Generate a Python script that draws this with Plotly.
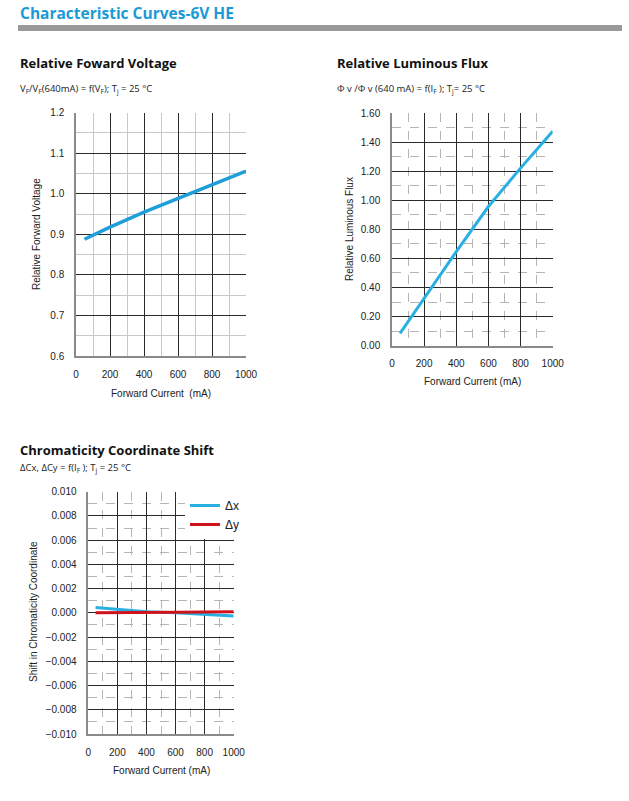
import plotly.graph_objects as go

# page size in px
W, H = 629, 801

# Relative forward voltage
current_vf = [50, 200, 400, 600, 800, 1000]
rel_vf = [0.888, 0.918, 0.955, 0.988, 1.023, 1.056]

# Relative luminous flux
current_flux = [50, 200, 400, 600, 800, 1000]
rel_flux = [0.085, 0.326, 0.647, 0.957, 1.221, 1.474]

# Chromaticity coordinate shift
current_cs = [50, 200, 400, 600, 800, 1000]
delta_x = [0.00044, 0.0003, 0.0001, 0.0, -0.0001, -0.00025]
delta_y = [0.0, 0.0, 0.00002, 0.00005, 0.00007, 0.0001]

BLUE = '#29b0e3'
RED = '#d0121b'
TICK_FONT = dict(family='Liberation Sans, Arial', size=10, color='#222')


def px_x(x):
    return x / W


def px_y(y):
    return 1 - y / H


def axis_style(rng, dtick, minor_dtick, dash, minor_color, fmt=None, domain=None, anchor=None):
    d = dict(range=rng, dtick=dtick, tick0=rng[0], showgrid=True, gridcolor='#2a2a2a', gridwidth=1.3,
             zeroline=False, showline=True, linecolor='#8a8a8a', linewidth=1.5, mirror=False,
             ticks='', tickfont=TICK_FONT, ticklabelstandoff=8, fixedrange=True, automargin=False,
             minor=dict(dtick=minor_dtick, showgrid=True, gridcolor=minor_color, gridwidth=1,
                        griddash=dash))
    if fmt:
        d['tickformat'] = fmt
    if domain:
        d['domain'] = domain
    if anchor:
        d['anchor'] = anchor
    return d


fig = go.Figure()

fig.add_trace(go.Scatter(x=current_vf, y=rel_vf, mode='lines', line=dict(color='#1f9fd9', width=3.5),
                         xaxis='x', yaxis='y', showlegend=False))
fig.add_trace(go.Scatter(x=current_flux, y=rel_flux, mode='lines', line=dict(color=BLUE, width=3),
                         xaxis='x2', yaxis='y2', showlegend=False))
fig.add_trace(go.Scatter(x=current_cs, y=delta_x, mode='lines', name='Δx', line=dict(color=BLUE, width=3),
                         xaxis='x3', yaxis='y3'))
fig.add_trace(go.Scatter(x=current_cs, y=delta_y, mode='lines', name='Δy', line=dict(color=RED, width=3),
                         xaxis='x3', yaxis='y3'))

fig.update_layout(
    width=W, height=H, margin=dict(l=0, r=0, t=0, b=0, autoexpand=False),
    paper_bgcolor='white', plot_bgcolor='white',
    font=dict(family='Liberation Sans, Arial', color='#222'),
    xaxis=axis_style([0, 1000], 200, 100, 'solid', '#c8c8c8',
                     domain=[px_x(76), px_x(246)], anchor='y'),
    yaxis=axis_style([0.6, 1.2], 0.1, 0.05, 'solid', '#c8c8c8', fmt='.1f',
                     domain=[px_y(356), px_y(112.7)], anchor='x'),
    xaxis2=axis_style([0, 1000], 200, 100, 'dash', '#b5b5b5',
                      domain=[px_x(392), px_x(552.7)], anchor='y2'),
    yaxis2=axis_style([0, 1.6], 0.2, 0.1, 'dash', '#b5b5b5', fmt='.2f',
                      domain=[px_y(345.7), px_y(113)], anchor='x2'),
    xaxis3=axis_style([0, 1000], 200, 100, 'dash', '#b5b5b5',
                      domain=[px_x(88.3), px_x(233.7)], anchor='y3'),
    yaxis3=axis_style([-0.01, 0.01], 0.002, 0.001, 'dash', '#b5b5b5', fmt='.3f',
                      domain=[px_y(734), px_y(491.7)], anchor='x3'),
    legend=dict(x=px_x(185), y=px_y(491), xanchor='left', yanchor='top', bgcolor='white',
                borderwidth=0, font=dict(family='Liberation Sans, Arial', size=12, color='#222'),
                itemwidth=30, tracegroupgap=0),
)

# header bar under the main title
fig.add_shape(type='rect', xref='paper', yref='paper', x0=px_x(18), x1=px_x(622),
              y0=px_y(31), y1=px_y(25), fillcolor='#999999', line_width=0)

HEAD = 'Open Sans, Noto Sans, Arial'
notes = [
    # (x px, y px, text, size, bold, color)
    (18, 13, 'Characteristic Curves-6V HE', 15.5, True, '#1a9ad6'),
    (18, 63, 'Relative Foward Voltage', 13, True, '#111'),
    (335, 63, 'Relative Luminous Flux', 13, True, '#111'),
    (18, 450, 'Chromaticity Coordinate Shift', 13, True, '#111'),
    (18, 89, 'V<sub>F</sub>/V<sub>F</sub>(640mA) = f(V<sub>F</sub>); T<sub>j</sub> = 25 °C', 9.5, False, '#222'),
    (335, 89, 'Φ v /Φ v (640 mA) = f(I<sub>F</sub> ); T<sub>j</sub>= 25 °C', 9.5, False, '#222'),
    (18, 468, 'ΔCx, ΔCy = f(I<sub>F</sub> ); T<sub>j</sub> = 25 °C', 9.5, False, '#222'),
]
for x, y, text, size, bold, color in notes:
    fig.add_annotation(x=px_x(x), y=px_y(y), xref='paper', yref='paper', xanchor='left', yanchor='middle',
                       text=f'<b>{text}</b>' if bold else text, showarrow=False,
                       font=dict(family=HEAD, size=size, color=color))

axis_titles = [
    (161, 393, 'Forward Current  (mA)', 0),
    (472, 381, 'Forward Current (mA)', 0),
    (161, 770, 'Forward Current (mA)', 0),
    (36, 234, 'Relative Forward Voltage', -90),
    (349, 229, 'Relative Luminous Flux', -90),
    (33, 612, 'Shift in Chromaticity Coordinate', -90),
]
for x, y, text, ang in axis_titles:
    fig.add_annotation(x=px_x(x), y=px_y(y), xref='paper', yref='paper', xanchor='center', yanchor='middle',
                       text=text, textangle=ang, showarrow=False,
                       font=dict(family='Liberation Sans, Arial', size=10, color='#222'))

# drop the default body margin so the figure fills the window exactly
fig.write_html("out.html", config={'displayModeBar': False},
               post_script="document.body.style.margin='0';document.body.style.overflow='hidden';")
